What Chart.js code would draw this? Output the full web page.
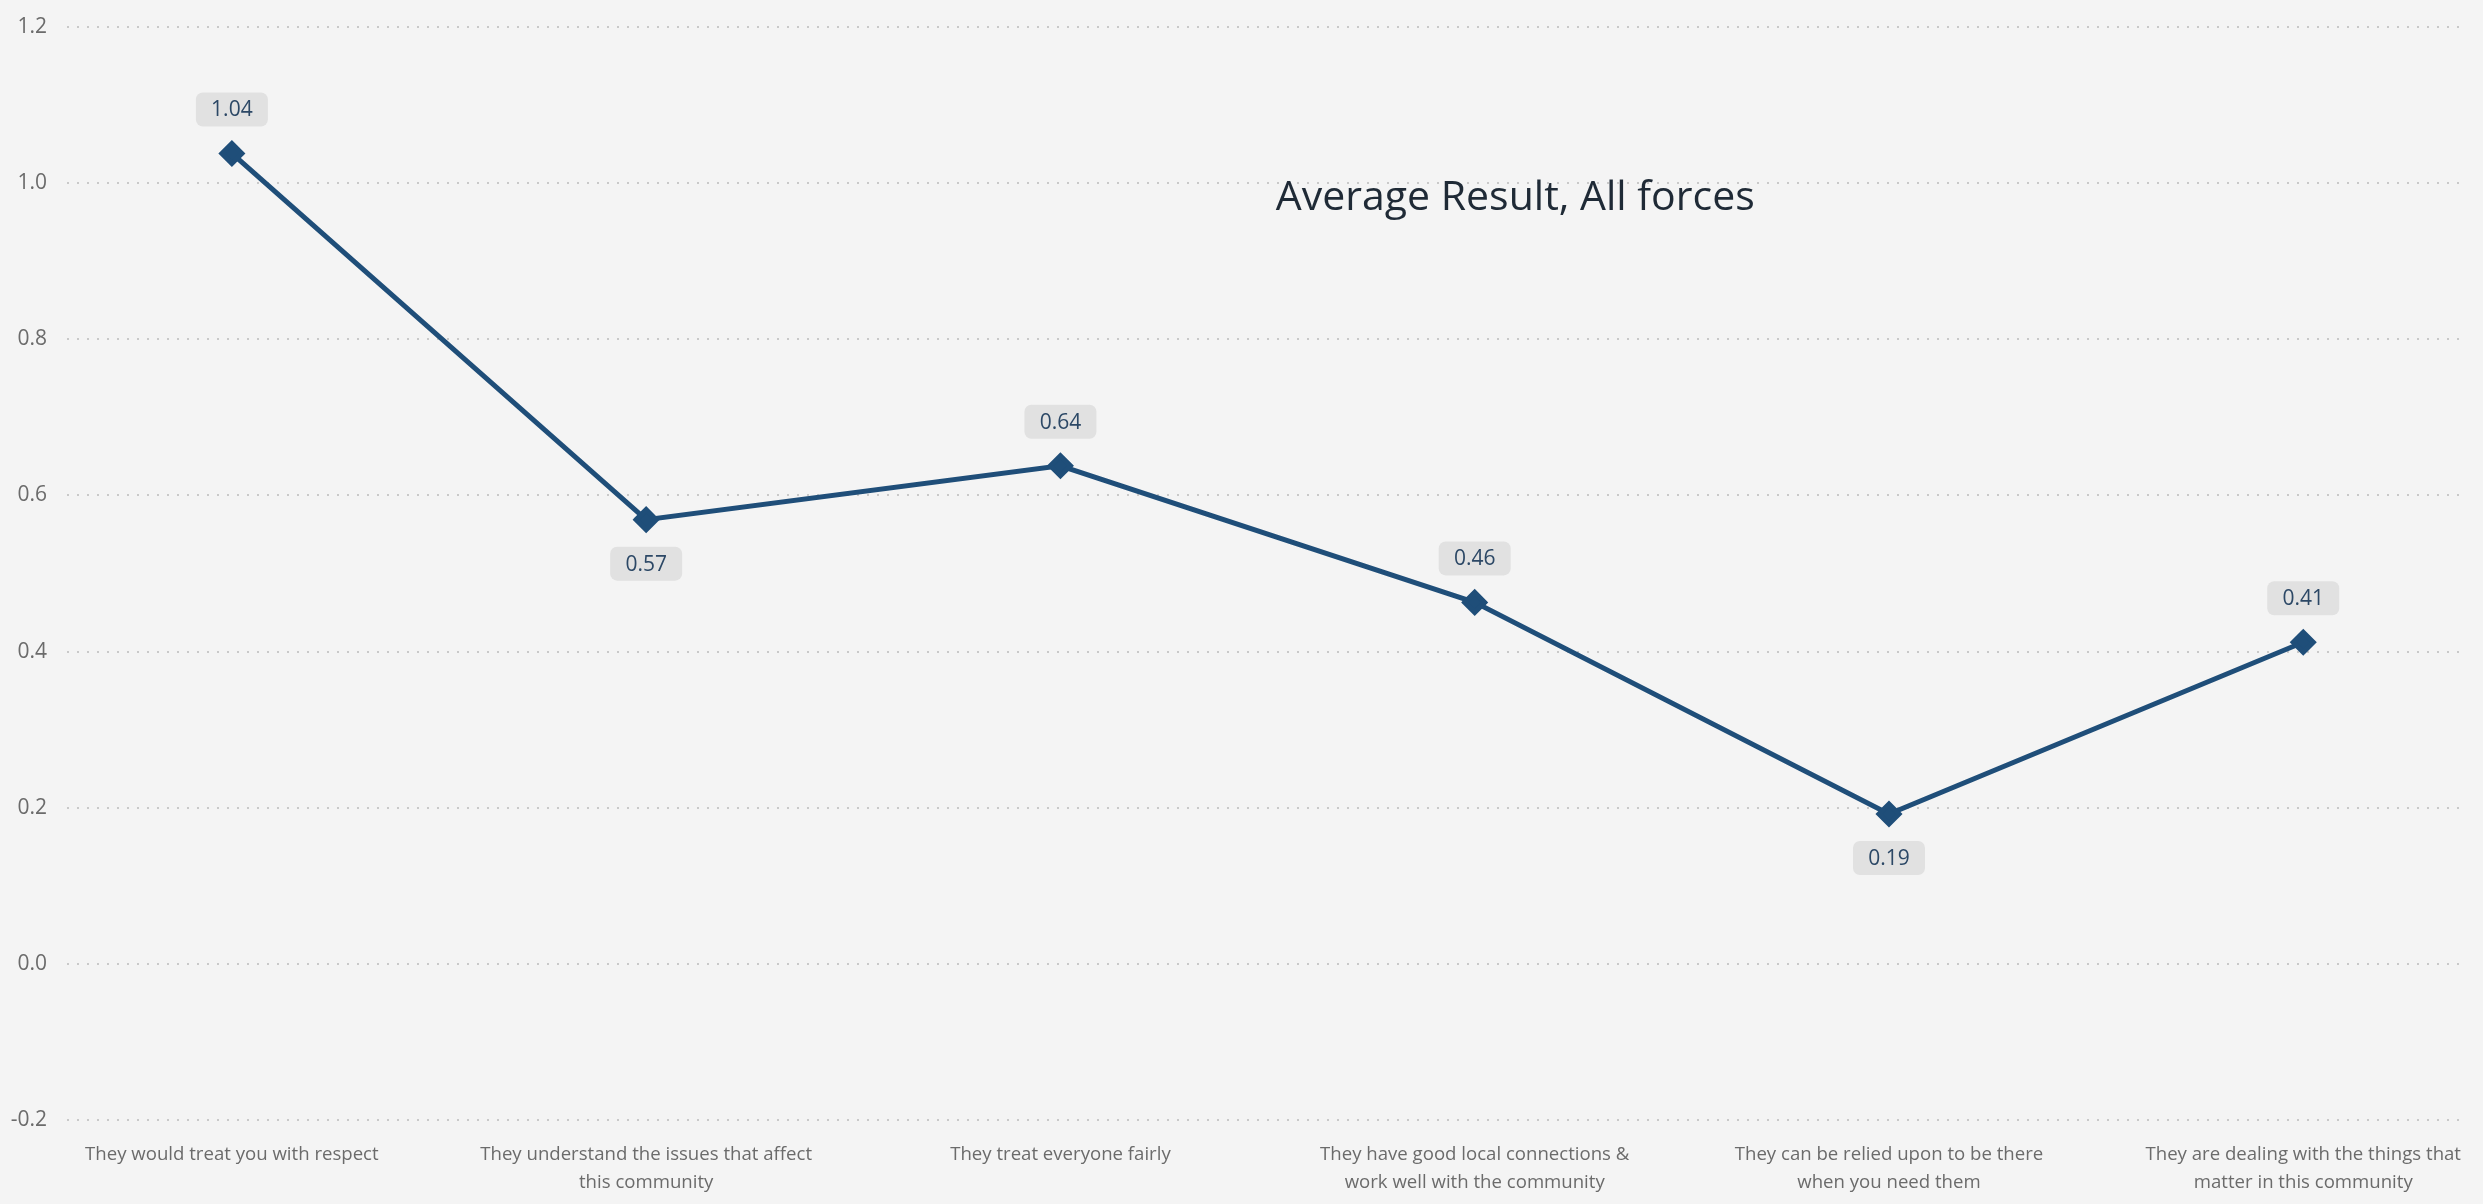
<!DOCTYPE html>
<html>
<head>
<meta charset="utf-8">
<script src="https://cdn.jsdelivr.net/npm/chart.js@4"></script>
<style>
  html, body { margin: 0; padding: 0; background: #f4f4f4; }
  #wrap { width: 2483px; height: 1204px; position: relative; }
</style>
</head>
<body>
<div id="wrap"><canvas id="Chart" width="2483" height="1204"></canvas></div>
<script>
// Categories (x axis)
var statements = [
  "They would treat you with respect",
  "They understand the issues that affect|this community",
  "They treat everyone fairly",
  "They have good local connections &|work well with the community",
  "They can be relied upon to be there|when you need them",
  "They are dealing with the things that|matter in this community"
];

// Series values
var averageResult = [1.038, 0.569, 0.638, 0.463, 0.192, 0.412];

// Y axis ticks
var yMin = -0.2;
var yMax = 1.2;
var yStep = 0.2;

var chartTitle = "Average Result, All forces";

// ---------------- plugins ----------------
// Background colour
var bgPlugin = {
  id: 'bg',
  beforeDraw: function(chart) {
    var ctx = chart.ctx;
    ctx.save();
    ctx.fillStyle = '#f4f4f4';
    ctx.fillRect(0, 0, chart.width, chart.height);
    ctx.restore();
  }
};

// Title drawn inside the plot
var titlePlugin = {
  id: 'innerTitle',
  afterDraw: function(chart) {
    var a = chart.chartArea;
    var ctx = chart.ctx;
    ctx.save();
    ctx.font = '41px "Open Sans"';
    ctx.fillStyle = '#1f2a36';
    ctx.textAlign = 'center';
    ctx.textBaseline = 'middle';
    ctx.fillText(chartTitle, a.left + (a.right - a.left) * 0.604, a.top + (a.bottom - a.top) * 0.157);
    ctx.restore();
  }
};

// Value labels in grey boxes
var labelPlugin = {
  id: 'valueLabels',
  afterDatasetsDraw: function(chart) {
    var ctx = chart.ctx;
    var meta = chart.getDatasetMeta(0);
    ctx.save();
    ctx.font = '21px "Open Sans"';
    ctx.textAlign = 'center';
    ctx.textBaseline = 'middle';
    meta.data.forEach(function(pt, i) {
      var v = averageResult[i];
      var prev = i > 0 ? averageResult[i - 1] : Infinity;
      var next = i < averageResult.length - 1 ? averageResult[i + 1] : Infinity;
      var below = v < prev && v < next;
      var cy = below ? pt.y + 44 : pt.y - 44;
      var w = 72, h = 34;
      ctx.fillStyle = '#e1e1e1';
      ctx.beginPath();
      ctx.roundRect(pt.x - w / 2, cy - h / 2, w, h, 7);
      ctx.fill();
      ctx.fillStyle = '#2c4866';
      ctx.fillText(v.toFixed(2), pt.x, cy + 1);
    });
    ctx.restore();
  }
};

// ---------------- chart ----------------
var points = averageResult.map(function(v, i) { return { x: i, y: v }; });

var chart = document.getElementById("Chart");
var myChart = new Chart(chart, {
  type: 'line',
  data: {
    datasets: [{
      label: chartTitle,
      data: points,
      borderColor: '#1f4e79',
      backgroundColor: '#1f4e79',
      borderWidth: 5,
      pointStyle: 'rectRot',
      pointRadius: 10,
      pointHoverRadius: 10,
      tension: 0
    }]
  },
  options: {
    responsive: false,
    animation: false,
    layout: { padding: { top: 27, right: 5, left: 0, bottom: 0 } },
    plugins: {
      legend: { display: false },
      title: { display: false },
      tooltip: { enabled: false }
    },
    scales: {
      x: {
        type: 'linear',
        min: -0.398,
        max: 5.39,
        grid: { display: false, drawTicks: false },
        border: { display: false },
        afterBuildTicks: function(scale) {
          scale.ticks = statements.map(function(s, i) { return { value: i }; });
        },
        afterFit: function(scale) { scale.height = 84; },
        ticks: {
          autoSkip: false,
          maxRotation: 0,
          padding: 21,
          color: '#6b6b6b',
          font: { family: 'Open Sans', size: 18.6, lineHeight: 1.5 },
          callback: function(value) {
            var s = statements[value];
            return s ? s.split('|') : '';
          }
        }
      },
      y: {
        min: yMin,
        max: yMax,
        grid: {
          color: '#c9c9c9',
          lineWidth: 2,
          drawTicks: false
        },
        border: { display: false, dash: [2, 8] },
        afterFit: function(scale) {
          scale.width = 67;
          // tick padding would otherwise push the plot top down
          scale.paddingTop = 12;
          scale.paddingBottom = 12;
        },
        ticks: {
          stepSize: yStep,
          padding: 20,
          color: '#6b6b6b',
          font: { family: 'Open Sans', size: 21 },
          callback: function(value) {
            var r = Math.round(value * 10) / 10;
            return (r === 0 ? 0 : r).toFixed(1);
          }
        }
      }
    }
  },
  plugins: [bgPlugin, titlePlugin, labelPlugin]
});
</script>
</body>
</html>
